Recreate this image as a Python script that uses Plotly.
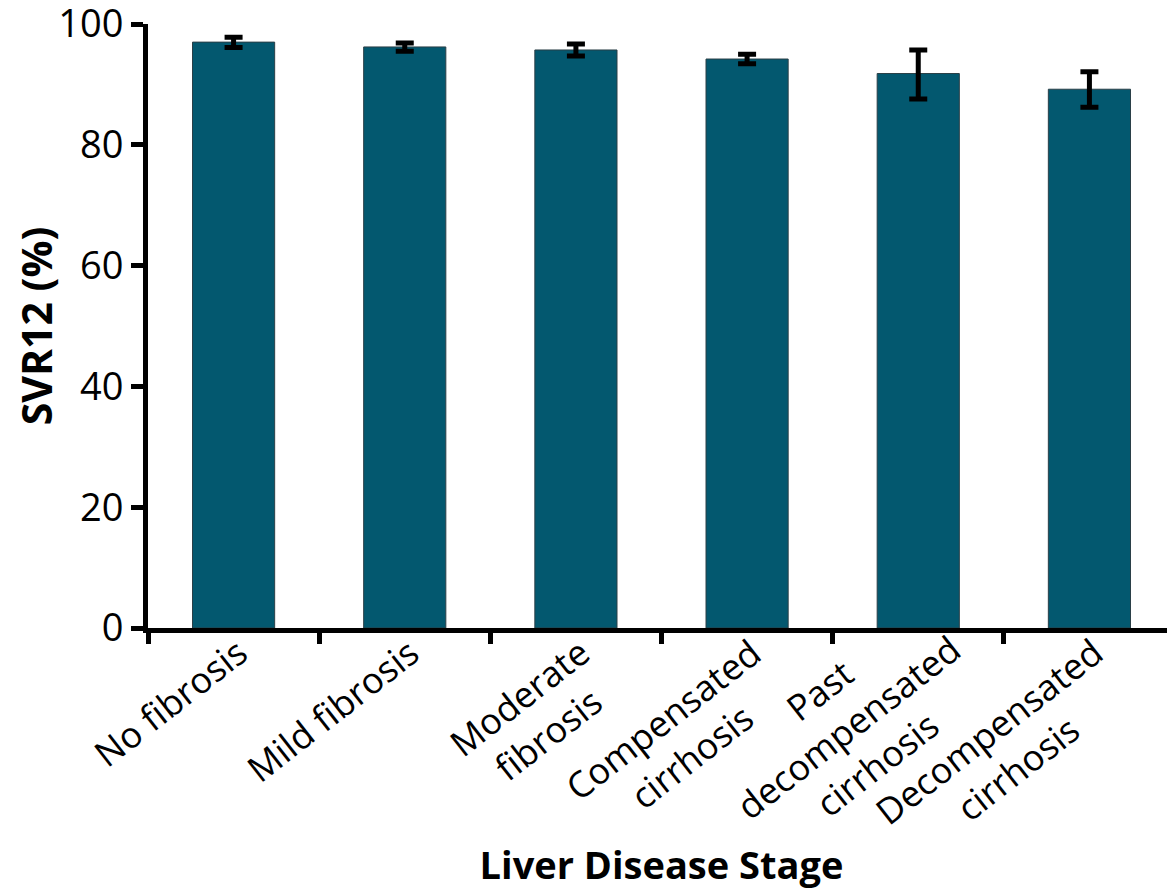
import math
import plotly.graph_objects as go

categories = ["No fibrosis", "Mild fibrosis", "Moderate fibrosis",
              "Compensated cirrhosis", "Past decompensated cirrhosis",
              "Decompensated cirrhosis"]
tick_text = ["No fibrosis", "Mild fibrosis", "Moderate<br>fibrosis",
             "Compensated<br>cirrhosis", "Past<br>decompensated<br>cirrhosis",
             "Decompensated<br>cirrhosis"]
svr12 = [97.0, 96.2, 95.7, 94.2, 91.8, 89.2]
err_plus = [0.8, 0.65, 1.0, 0.8, 3.9, 2.9]
err_minus = [0.9, 0.7, 1.0, 0.8, 4.2, 3.0]
y_ticks = [0, 20, 40, 60, 80, 100]

# layout tweak: extra upward nudge (px) of individual category labels, as in the original
label_lift = [0, 0, 0, 0, 40, 0]

FONT = "Open Sans"
LABEL_SIZE = 36
ANGLE = 38

fig = go.Figure()
fig.add_trace(go.Bar(
    x=categories, y=svr12,
    marker=dict(color="#03586f", line=dict(color="#2a3f47", width=1)),
    error_y=dict(type="data", symmetric=False, array=err_plus, arrayminus=err_minus,
                 color="black", thickness=5, width=9),
))

# rotated, centred category labels placed at each category of the x axis;
# the rotated box is anchored by its top-right, so compensate for its height
line_h = LABEL_SIZE * 1.3
sin_a = math.sin(math.radians(ANGLE))
for cat, txt, lift in zip(categories, tick_text, label_lift):
    n_lines = txt.count("<br>") + 1
    fig.add_annotation(x=cat, y=0, xref="x", yref="y", text=txt,
                       textangle=-ANGLE, align="center", showarrow=False,
                       xanchor="right", yanchor="top",
                       xshift=26 + sin_a * line_h * (n_lines - 1), yshift=3 + lift,
                       font=dict(family=FONT, size=LABEL_SIZE, color="black"))

fig.update_layout(
    width=1167, height=882,
    margin=dict(l=140, r=0, t=16, b=262),
    plot_bgcolor="white", paper_bgcolor="white",
    bargap=0.52,
    showlegend=False,
    font=dict(family=FONT, color="black"),
)
fig.update_xaxes(
    type="category", categoryorder="array", categoryarray=categories,
    range=[-0.5, len(categories) - 0.5],
    showline=True, linecolor="black", linewidth=5,
    ticks="outside", tickson="boundaries", ticklen=11, tickwidth=5, tickcolor="black",
    showticklabels=False, showgrid=False, automargin=False,
    title=dict(text="<b>Liver Disease Stage</b>", font=dict(family=FONT, size=38), standoff=222),
)
fig.update_yaxes(
    range=[0, 100], tickvals=y_ticks,
    showline=True, linecolor="black", linewidth=5,
    ticks="outside", ticklen=12, tickwidth=5, tickcolor="black",
    tickfont=dict(family=FONT, size=38), ticklabeloverflow="allow",
    showgrid=False, zeroline=False, automargin=False,
    title=dict(text="<b>SVR12 (%)</b>", font=dict(family=FONT, size=41), standoff=8),
)

fig.write_html("out.html")
